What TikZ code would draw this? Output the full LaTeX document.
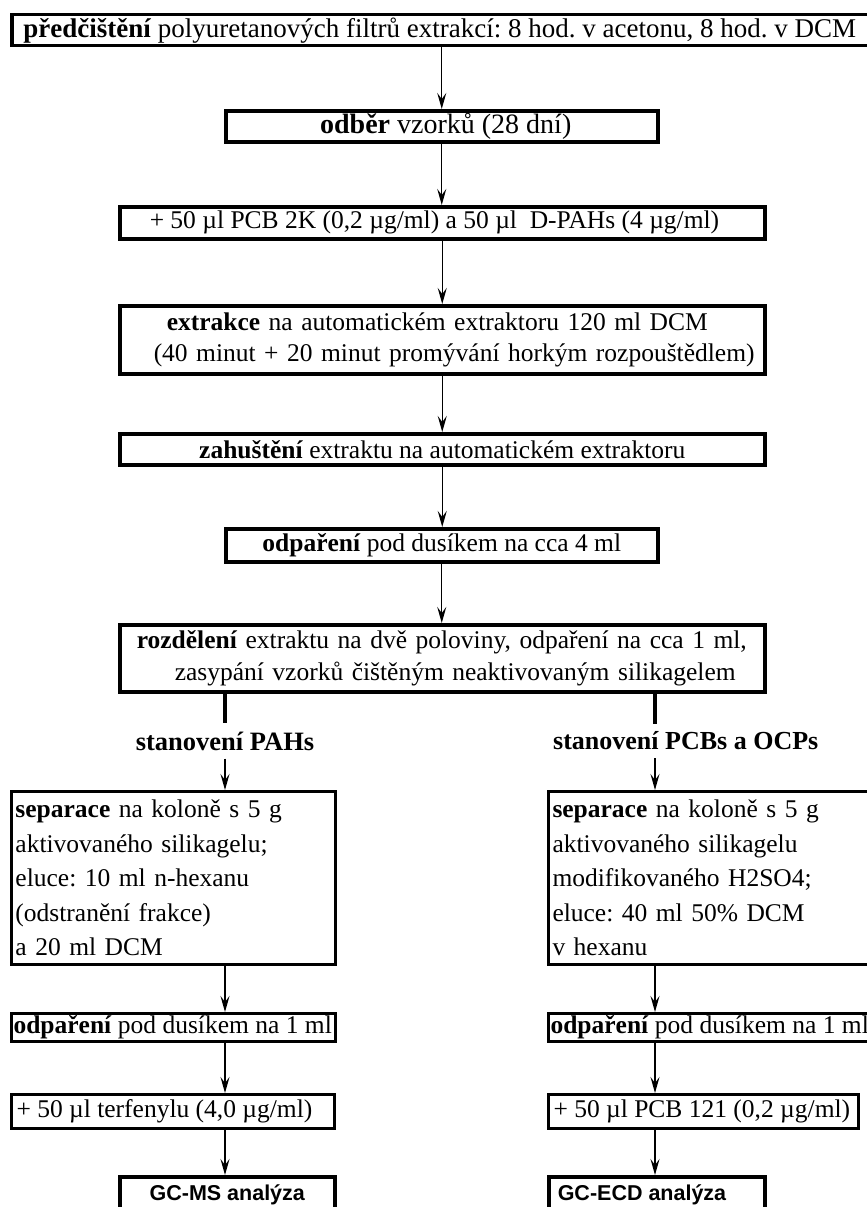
\documentclass[tikz,border=0pt]{standalone}
\usepackage{fontspec}
\setmainfont{Liberation Serif}
\newfontfamily\arialfont{Liberation Sans}
\usetikzlibrary{arrows.meta}
\frenchspacing
\begin{document}
\begin{tikzpicture}[x=1pt,y=-1pt,
  txt/.style={font=\fontsize{25.5}{34.5}\selectfont},
  box/.style={draw, line width=3.5pt, inner sep=0pt, anchor=north west, txt},
  sbox/.style={box, line width=3pt},
  conn/.style={line width=1.2pt, -{Stealth[length=16pt,width=9pt,inset=6pt]}},
  split/.style={line width=3.5pt},
  lab/.style={font=\fontsize{26.5}{30}\selectfont\bfseries, inner xsep=0pt, inner ysep=8pt},
  gc/.style={box, font=\fontsize{21.5}{25}\selectfont\arialfont\bfseries}]
\clip (0,0) rectangle (867,1207);
% main column
\node[box, minimum width=870pt, minimum height=31pt, font=\fontsize{27}{30}\selectfont] (b1) at (10,13)
  {\hspace*{-14pt}\textbf{předčištění} polyuretanových filtrů extrakcí: 8 hod. v acetonu, 8 hod. v DCM};
\node[box, minimum width=432pt, minimum height=31pt, font=\fontsize{28}{31}\selectfont] (b2) at (224,109)
  {\hspace*{8pt}\textbf{odběr} vzorků (28 dní)};
\node[box, minimum width=645pt, minimum height=32pt] (b3) at (118,205)
  {\makebox[645pt][l]{\hspace*{30pt}+ 50 µl PCB 2K (0,2 µg/ml) a 50 µl\ \ D-PAHs (4 µg/ml)}};
\node[box, minimum width=645pt, minimum height=68pt, text width=645pt, align=left,
      font=\fontsize{25.5}{31}\selectfont] (b4) at (118,304)
  {\hspace*{47pt}\textbf{extrakce} na automatickém extraktoru 120 ml DCM\\
   \hspace*{34pt}(40 minut + 20 minut promývání horkým rozpouštědlem)};
\node[box, minimum width=645pt, minimum height=31pt] (b5) at (118,432)
  {\textbf{zahuštění} extraktu na automatickém extraktoru};
\node[box, minimum width=432pt, minimum height=33pt] (b6) at (224,527)
  {\textbf{odpaření} pod dusíkem na cca 4 ml};
\node[box, minimum width=645pt, minimum height=67pt, text width=645pt, align=left,
      font=\fontsize{25.5}{32}\selectfont] (b7) at (118,623)
  {\hspace*{17pt}\textbf{rozdělení} extraktu na dvě poloviny, odpaření na cca 1 ml,\\
   \hspace*{55pt}zasypání vzorků čištěným neaktivovaným silikagelem};
\draw[conn] (b2.north |- b1.south) -- (b2.north);
\draw[conn] (b2.south) -- (b2.south |- b3.north);
\draw[conn] (b3.south) -- (b3.south |- b4.north);
\draw[conn] (b4.south) -- (b4.south |- b5.north);
\draw[conn] (b5.south) -- (b5.south |- b6.north);
\draw[conn] (b6.south) -- (b6.south |- b7.north);
% branches
\node[lab] (lL) at (225,741) {stanovení PAHs};
\node[lab, anchor=west, font=\fontsize{26}{30}\selectfont\bfseries] (lR) at (553,741) {stanovení PCBs a OCPs};
\coordinate (cR) at (655,741);
\draw[split] (b7.south -| lL) -- (lL.north);
\draw[split] (b7.south -| cR) -- (lR.north -| cR);
% left column
\node[sbox, minimum width=324pt, minimum height=173pt, text width=316pt, inner xsep=4pt, align=left] (sL) at (10,790)
  {\textbf{separace} na koloně s 5 g\\aktivovaného silikagelu;\\eluce: 10 ml n-hexanu\\(odstranění frakce)\\a 20 ml DCM};
\node[sbox, minimum width=324pt, minimum height=28pt, inner xsep=2pt] (oL) at (10,1012)
  {\makebox[320pt][l]{\textbf{odpaření} pod dusíkem na 1 ml}};
\node[sbox, minimum width=323pt, minimum height=34pt, inner xsep=5pt] (pL) at (10,1093)
  {\makebox[313pt][l]{+ 50 µl terfenylu (4,0 µg/ml)}};
\node[gc, minimum width=215pt, minimum height=37pt] (gL) at (118,1175) {GC-MS analýza};
% right column
\node[sbox, minimum width=340pt, minimum height=173pt, text width=332pt, inner xsep=4pt, align=left] (sR) at (547,790)
  {\textbf{separace} na koloně s 5 g\\aktivovaného silikagelu\\modifikovaného H2SO4;\\eluce: 40 ml 50\% DCM\\v hexanu};
\node[sbox, minimum width=340pt, minimum height=28pt, inner xsep=2pt] (oR) at (547,1012)
  {\makebox[336pt][l]{\textbf{odpaření} pod dusíkem na 1 ml}};
\node[sbox, minimum width=310pt, minimum height=34pt, inner xsep=5pt] (pR) at (547,1093)
  {\makebox[300pt][l]{+ 50 µl PCB 121 (0,2 µg/ml)}};
\node[gc, minimum width=216pt, minimum height=37pt, inner xsep=9pt] (gR) at (547,1175)
  {\makebox[198pt][l]{GC-ECD analýza}};
% connectors
\draw[conn] (lL.south) -- (lL.south |- sL.north);
\draw[conn] (lR.south -| cR) -- (sR.north -| cR);
\draw[conn] (sL.south -| lL) -- (oL.north -| lL);
\draw[conn] (sR.south -| cR) -- (oR.north -| cR);
\draw[conn] (oL.south -| lL) -- (pL.north -| lL);
\draw[conn] (oR.south -| cR) -- (pR.north -| cR);
\draw[conn] (pL.south -| lL) -- (gL.north -| lL);
\draw[conn] (pR.south -| cR) -- (gR.north -| cR);
\end{tikzpicture}
\end{document}
